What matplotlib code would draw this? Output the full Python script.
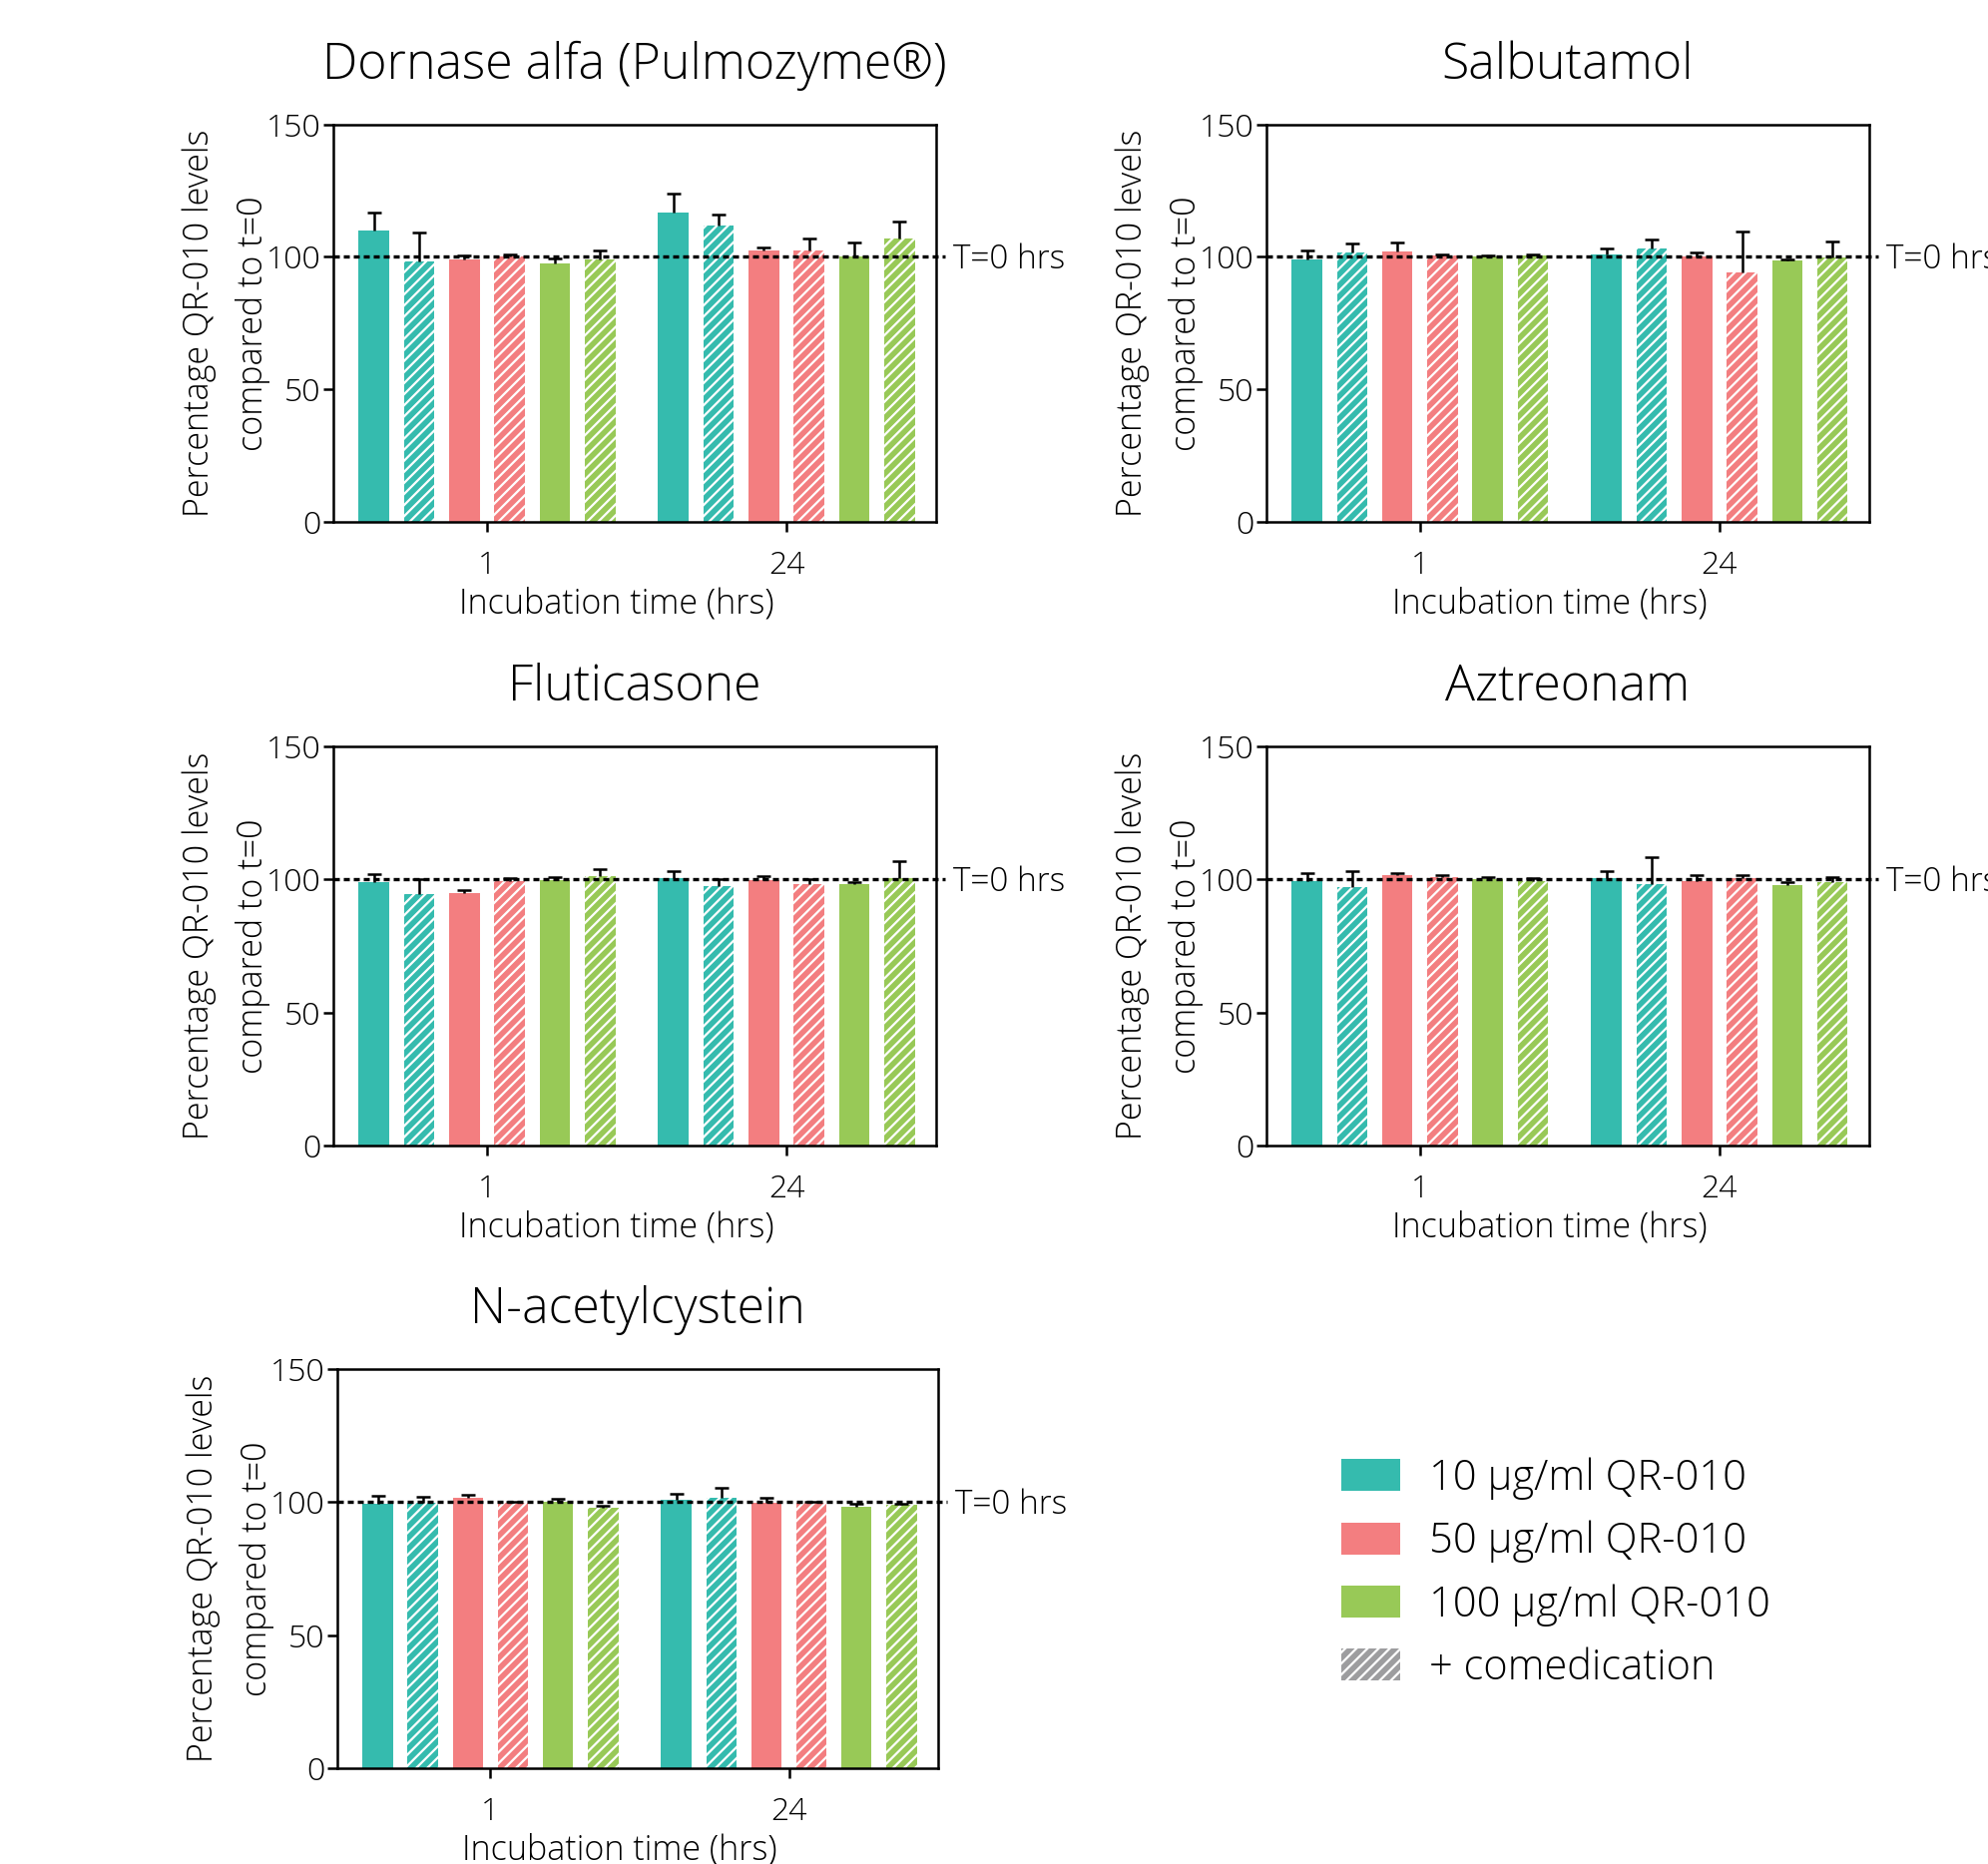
import numpy as np
import matplotlib.pyplot as plt
from matplotlib.patches import Patch
import matplotlib.transforms as mtransforms

plt.rcParams['font.family'] = ['Open Sans', 'DejaVu Sans']
plt.rcParams['font.weight'] = 'light'
plt.rcParams['axes.titleweight'] = 'light'
plt.rcParams['axes.labelweight'] = 'light'
plt.rcParams['hatch.linewidth'] = 1.6

times = ['1', '24']
groups = ['10 µg/ml QR-010', '50 µg/ml QR-010', '100 µg/ml QR-010']
colors = ['#35bbae', '#f37e80', '#98c957']

# bar order inside each time point: 10, 10+comed, 50, 50+comed, 100, 100+comed
dornase_mean = [[109.8, 98.1, 99.2, 100.1, 97.4, 99.0],
                [116.9, 112.0, 102.3, 102.6, 100.0, 107.0]]
dornase_err = [[7.0, 11.0, 1.5, 0.7, 2.0, 3.6],
               [7.1, 3.9, 1.1, 4.2, 5.3, 6.2]]

salbutamol_mean = [[99.2, 101.5, 101.9, 100.4, 100.1, 100.4],
                   [100.8, 103.0, 100.0, 94.2, 98.5, 99.6]]
salbutamol_err = [[3.1, 3.4, 3.5, 0.5, 0.3, 0.6],
                  [2.5, 3.4, 1.6, 15.4, 0.7, 6.3]]

fluticasone_mean = [[99.1, 94.6, 95.0, 99.3, 99.9, 101.4],
                    [100.6, 97.6, 99.9, 98.4, 98.4, 100.6]]
fluticasone_err = [[3.0, 5.6, 0.9, 1.3, 1.0, 2.5],
                   [2.6, 2.6, 1.5, 1.9, 0.8, 6.3]]

aztreonam_mean = [[99.3, 97.0, 101.5, 101.0, 100.0, 99.4],
                  [100.7, 98.4, 99.6, 100.7, 98.1, 98.9]]
aztreonam_err = [[3.0, 6.1, 1.1, 0.5, 1.0, 1.2],
                 [2.6, 10.0, 1.9, 1.1, 0.9, 2.2]]

nac_mean = [[99.5, 99.6, 101.6, 99.6, 100.1, 97.9],
            [100.9, 101.6, 99.6, 99.6, 98.2, 99.1]]
nac_err = [[2.9, 2.4, 1.1, 0.4, 1.1, 0.8],
           [2.4, 3.8, 2.0, 0.4, 1.1, 0.4]]

panels = [
    ('Dornase alfa (Pulmozyme®)', dornase_mean, dornase_err, [0.1677, 0.7200, 0.3032, 0.2133]),
    ('Salbutamol', salbutamol_mean, salbutamol_err, [0.6370, 0.7200, 0.3032, 0.2133]),
    ('Fluticasone', fluticasone_mean, fluticasone_err, [0.1677, 0.3854, 0.3032, 0.2141]),
    ('Aztreonam', aztreonam_mean, aztreonam_err, [0.6370, 0.3854, 0.3032, 0.2141]),
    ('N-acetylcystein', nac_mean, nac_err, [0.1697, 0.0514, 0.3022, 0.2141]),
]

pitch = 0.151
width = 0.102

fig = plt.figure(figsize=(19.92, 18.68), dpi=100)

for title, means, errs, rect in panels:
    ax = fig.add_axes(rect)
    for t in range(len(times)):
        for k in range(6):
            x = t + (k - 2.5) * pitch
            col = colors[k // 2]
            m = means[t][k]
            e = errs[t][k]
            if k % 2 == 0:
                ax.bar(x, m, width, color=col, linewidth=0, zorder=2)
            else:
                ax.bar(x, m, width, facecolor=col, edgecolor='white',
                       hatch='///', linewidth=0, zorder=2)
            # upper error only, no cap at the bar top
            _, caps, _ = ax.errorbar(x, m, yerr=[[0], [e]], fmt='none', ecolor='black',
                                     elinewidth=1.8, capsize=5, capthick=1.8, zorder=3)
            caps[0].set_visible(False)

    # T=0 reference line, running a little past the right spine
    trans = mtransforms.blended_transform_factory(ax.transAxes, ax.transData)
    ax.plot([0, 1.015], [100, 100], transform=trans, color='black', lw=2.4,
            dashes=(1.8, 1.2), clip_on=False, zorder=4)
    ax.text(1.028, 99, 'T=0 hrs', transform=trans, ha='left', va='center',
            fontsize=24)

    ax.set_xlim(-0.513, 1.5)
    ax.set_ylim(0, 150)
    ax.set_yticks([0, 50, 100, 150])
    ax.set_xticks([0, 1])
    ax.set_xticklabels(times)
    ax.tick_params(axis='both', labelsize=23, width=1.8, length=7, colors='black')
    ax.tick_params(axis='y', pad=2)
    ax.tick_params(axis='x', pad=13)
    for s in ax.spines.values():
        s.set_linewidth(1.8)
    ax.set_title(title, fontsize=36, pad=33)
    ax.set_xlabel('Incubation time (hrs)', fontsize=24.5)
    ax.xaxis.set_label_coords(0.47, -0.163)
    ax.set_ylabel('Percentage QR-010 levels\ncompared to t=0', fontsize=24.5,
                  linespacing=1.7, labelpad=-3)

handles = [Patch(facecolor=c, linewidth=0) for c in colors]
handles.append(Patch(facecolor='#9d9d9f', edgecolor='white', hatch='///', linewidth=0))
labels = groups + ['+ comedication']
fig.legend(handles, labels, loc='center left', bbox_to_anchor=(0.656, 0.156),
           frameon=False, fontsize=30, handlelength=1.4, handleheight=0.8,
           handletextpad=0.7, labelspacing=0.5)

fig.savefig('out.png', dpi=100)
